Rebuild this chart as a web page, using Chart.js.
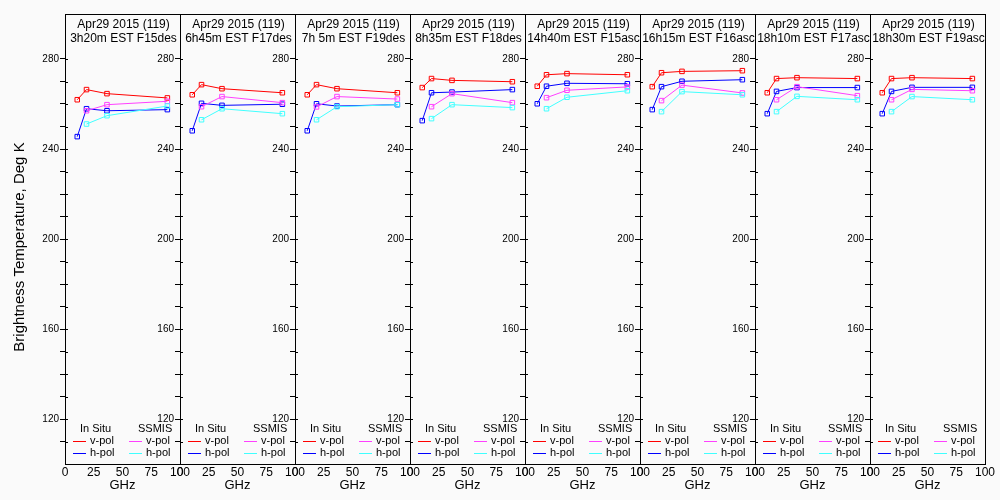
<!DOCTYPE html>
<html>
<head>
<meta charset="utf-8">
<script src="https://cdn.jsdelivr.net/npm/chart.js@4"></script>
<style>
  html, body { margin: 0; padding: 0; background: #fafafa; }
  #wrap { position: relative; width: 1000px; height: 500px; overflow: hidden; }
  #wrap canvas { position: absolute; top: 0; }
</style>
</head>
<body>
<div id="wrap"></div>
<script>
// header lines of every panel
const dateLabel = 'Apr29 2015 (119)';
const timeLabels = ['3h20m EST F15des', '6h45m EST F17des', '7h 5m EST F19des', '8h35m EST F18des',
                    '14h40m EST F15asc', '16h15m EST F16asc', '18h10m EST F17asc', '18h30m EST F19asc'];

// frequencies (GHz)
const freqInSitu = [10.65, 18.7, 36.5, 89.0];
const freqSsmis = [18.7, 36.5, 89.0];

// brightness temperatures (K), one row per panel
const inSituV = [
  [261.9, 266.4, 264.6, 262.7],
  [264.1, 268.6, 266.8, 265.0],
  [264.1, 268.6, 266.8, 265.0],
  [267.3, 271.3, 270.5, 269.9],
  [267.9, 273.0, 273.5, 273.0],
  [267.7, 273.9, 274.5, 274.8],
  [265.0, 271.3, 271.7, 271.3],
  [265.0, 271.3, 271.7, 271.3]
];
const inSituH = [
  [245.5, 257.9, 257.0, 257.5],
  [248.1, 260.3, 259.4, 259.9],
  [248.1, 260.1, 259.1, 259.7],
  [252.6, 265.0, 265.3, 266.4],
  [260.1, 267.9, 269.2, 269.0],
  [257.5, 267.7, 270.1, 270.8],
  [255.7, 265.6, 267.3, 267.3],
  [255.7, 265.6, 267.4, 267.4]
];
const ssmisV = [
  [257.0, 259.7, 261.2],
  [258.8, 263.3, 260.6],
  [258.7, 263.3, 262.2],
  [258.8, 264.6, 260.6],
  [262.8, 266.1, 267.6],
  [261.5, 268.4, 264.9],
  [261.9, 267.7, 263.7],
  [261.9, 266.5, 265.9]
];
const ssmisH = [
  [251.1, 254.8, 259.1],
  [253.0, 257.9, 255.7],
  [253.0, 258.8, 259.7],
  [253.5, 259.7, 258.4],
  [257.9, 263.0, 265.9],
  [256.6, 265.5, 264.1],
  [256.6, 263.4, 261.9],
  [256.6, 263.3, 261.9]
];

const yTickValues = [110, 120, 130, 140, 150, 160, 170, 180, 190, 200, 210, 220, 230, 240, 250, 260, 270, 280];
const yLabelValues = [120, 160, 200, 240, 280];
const xTickValues = [0, 25, 50, 75, 100];

const colors = { inV: '#ff0000', inH: '#0000ff', ssV: '#ff40ff', ssH: '#40ffff' };
const FONT = '"Liberation Sans", Arial, sans-serif';

const pts = (xs, ys) => xs.map((x, i) => ({ x: x, y: ys[i] }));

const series = (label, color, data) => ({
  label: label,
  data: data,
  borderColor: color,
  borderWidth: 1,
  pointStyle: 'rect',
  pointRadius: 3.2,
  pointBorderWidth: 1,
  pointBorderColor: color,
  pointBackgroundColor: 'rgba(0,0,0,0)',
  tension: 0,
  fill: false
});

const panelDeco = {
  id: 'panelDeco',
  afterDraw: (chart, args, opts) => {
    const { ctx, chartArea: a } = chart;
    ctx.save();
    ctx.strokeStyle = '#000';
    ctx.lineWidth = 1;
    ctx.strokeRect(Math.round(a.left) + 0.5, Math.round(a.top) + 0.5,
                   Math.round(a.right - a.left), Math.round(a.bottom - a.top));

    // little stubs of the y ticks on the inner side of the axis
    const ys = chart.scales.y;
    ctx.fillStyle = '#000';
    yTickValues.forEach(v => {
      ctx.fillRect(Math.round(a.left) + 1, Math.round(ys.getPixelForValue(v)), 2, 1);
    });

    // header, clipped to the panel
    ctx.save();
    ctx.beginPath();
    ctx.rect(a.left + 1, 0, a.right - a.left - 1, chart.height);
    ctx.clip();
    ctx.font = '12px ' + FONT;
    ctx.textAlign = 'center';
    ctx.textBaseline = 'alphabetic';
    const cx = (a.left + a.right) / 2 + 1;
    ctx.fillText(dateLabel, cx, a.top + 14);
    ctx.fillText(opts.time, cx, a.top + 28);
    ctx.restore();

    // legend
    const b = a.bottom;
    ctx.font = '11px ' + FONT;
    ctx.textAlign = 'left';
    ctx.textBaseline = 'middle';
    ctx.fillText('In Situ', a.left + 15, b - 35);
    ctx.fillText('SSMIS', a.left + 73, b - 35);
    const row = (x, y, color, text) => {
      ctx.fillStyle = color;
      ctx.fillRect(a.left + x, Math.round(y), 13, 1);
      ctx.fillStyle = '#000';
      ctx.fillText(text, a.left + x + 17, y);
    };
    row(8, b - 23, colors.inV, 'v-pol');
    row(8, b - 11.5, colors.inH, 'h-pol');
    row(64, b - 23, colors.ssV, 'v-pol');
    row(64, b - 11.5, colors.ssH, 'h-pol');

    if (opts.yTitle) {
      ctx.translate(20, 247);
      ctx.rotate(-Math.PI / 2);
      ctx.textAlign = 'center';
      ctx.font = '15px ' + FONT;
      ctx.fillText('Brightness Temperature, Deg K', 0, 0);
    }
    ctx.restore();
  }
};

const wrap = document.getElementById('wrap');

timeLabels.forEach((time, i) => {
  const canvas = document.createElement('canvas');
  canvas.width = 200;
  canvas.height = 500;
  canvas.style.left = (i * 115) + 'px';
  canvas.style.width = '200px';
  canvas.style.height = '500px';
  wrap.appendChild(canvas);

  new Chart(canvas.getContext('2d'), {
    type: 'line',
    data: {
      // later datasets are drawn underneath
      datasets: [
        series('SSMIS h-pol', colors.ssH, pts(freqSsmis, ssmisH[i])),
        series('SSMIS v-pol', colors.ssV, pts(freqSsmis, ssmisV[i])),
        series('In Situ h-pol', colors.inH, pts(freqInSitu, inSituH[i])),
        series('In Situ v-pol', colors.inV, pts(freqInSitu, inSituV[i]))
      ]
    },
    options: {
      responsive: false,
      devicePixelRatio: 1,
      animation: false,
      layout: { padding: { left: 0, top: 14, right: 20, bottom: 0 } },
      plugins: {
        legend: { display: false },
        tooltip: { enabled: false },
        panelDeco: { time: time, yTitle: i === 0 }
      },
      scales: {
        x: {
          type: 'linear',
          min: 0,
          max: 100,
          afterBuildTicks: s => { s.ticks = xTickValues.map(v => ({ value: v })); },
          afterFit: s => { s.height = 36; },
          border: { display: false },
          grid: { display: false, drawTicks: false, tickLength: 0 },
          ticks: { color: '#000', font: { family: FONT, size: 12 }, padding: 1, maxRotation: 0 },
          title: { display: true, text: 'GHz', color: '#000', font: { family: FONT, size: 13 }, padding: { top: 0, bottom: 7 } }
        },
        y: {
          type: 'linear',
          min: 100,
          max: 300,
          afterBuildTicks: s => { s.ticks = yTickValues.map(v => ({ value: v })); },
          afterFit: s => { s.width = 65; },
          border: { display: false },
          grid: { drawOnChartArea: false, drawTicks: true, tickLength: 5, color: '#000', lineWidth: 1 },
          ticks: {
            color: '#000',
            font: { family: FONT, size: 10 },
            padding: 1,
            callback: v => yLabelValues.includes(v) ? String(v) : ''
          }
        }
      }
    },
    plugins: [panelDeco]
  });
});
</script>
</body>
</html>
